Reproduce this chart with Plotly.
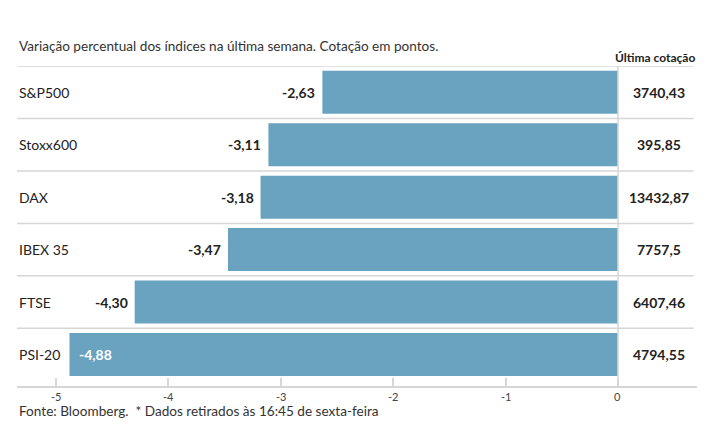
import plotly.graph_objects as go

categories = ["S&P500", "Stoxx600", "DAX", "IBEX 35", "FTSE", "PSI-20"]
variation = [-2.63, -3.11, -3.18, -3.47, -4.30, -4.88]
last_quote = ["3740,43", "395,85", "13432,87", "7757,5", "6407,46", "4794,55"]
tick_vals = [-5, -4, -3, -2, -1, 0]
tick_text = ["-5", "-4", "-3", "-2", "-1", "0"]

FONT = "Lato"
BAR = "#6aa3bf"
LINE = "#d6d6d6"
TEXT = "#222222"

ypos = list(range(len(categories)))

fig = go.Figure()
fig.add_trace(go.Bar(
    x=variation, y=ypos, orientation="h", width=0.82,
    marker=dict(color=BAR, line=dict(width=0)),
    hoverinfo="skip",
))

shapes = []
for i in range(len(categories)):
    shapes.append(dict(type="line", xref="paper", yref="y", x0=0, x1=0.995,
                       y0=i - 0.5, y1=i - 0.5, line=dict(color=LINE, width=1.5)))
shapes.append(dict(type="line", xref="x", yref="paper", x0=0, x1=0, y0=0, y1=1,
                   line=dict(color=LINE, width=1.5)))

annotations = []
n = len(categories)
for i, c in enumerate(categories):
    annotations.append(dict(x=0, xref="paper", xanchor="left", y=i, yref="y",
                            text=c, showarrow=False,
                            font=dict(family=FONT, size=14, color=TEXT)))
    annotations.append(dict(x=0.365, xref="x", xanchor="center", y=i, yref="y",
                            text="<b>" + last_quote[i] + "</b>", showarrow=False,
                            font=dict(family=FONT, size=14, color=TEXT)))
    lab = "<b>" + f"{variation[i]:.2f}".replace(".", ",") + "</b>"
    inside = (i == n - 1)
    annotations.append(dict(x=variation[i], xref="x", y=i, yref="y", text=lab,
                            showarrow=False,
                            xanchor="left" if inside else "right",
                            xshift=8 if inside else -5,
                            font=dict(family=FONT, size=14,
                                      color="white" if inside else TEXT)))

for v, t in zip(tick_vals, tick_text):
    annotations.append(dict(x=v, xref="x", y=0, yref="paper", yanchor="middle",
                            yshift=-10, text=t, showarrow=False,
                            font=dict(family=FONT, size=11, color="#444444")))

annotations.append(dict(x=0, xref="paper", y=1.062, yref="paper", xanchor="left", yanchor="middle",
                        text="Variação percentual dos índices na última semana. Cotação em pontos.",
                        showarrow=False, font=dict(family=FONT, size=13.6, color="#333333")))
annotations.append(dict(x=1.0, xref="paper", y=1.0256, yref="paper", xanchor="right", yanchor="middle",
                        text="<b>Última cotação</b>", showarrow=False,
                        font=dict(family=FONT, size=12, color=TEXT)))
annotations.append(dict(x=0, xref="paper", y=-0.077, yref="paper", xanchor="left", yanchor="middle",
                        text="Fonte: Bloomberg.  * Dados retirados às 16:45 de sexta-feira",
                        showarrow=False, font=dict(family=FONT, size=13.6, color="#333333")))

fig.update_layout(
    width=707, height=437,
    margin=dict(l=9, r=18, t=58, b=59),
    paper_bgcolor="white", plot_bgcolor="white",
    showlegend=False,
    xaxis=dict(range=[-5.347, 0.703], tickvals=tick_vals, showticklabels=False,
               ticks="inside", ticklen=8, tickcolor=LINE, tickwidth=1.5,
               showgrid=False, zeroline=False, showline=True, linecolor=LINE, linewidth=1.5),
    yaxis=dict(range=[5.6, -0.5], showticklabels=False, showgrid=False,
               zeroline=False, showline=False, ticks=""),
    shapes=shapes, annotations=annotations,
)

fig.write_html("out.html")
